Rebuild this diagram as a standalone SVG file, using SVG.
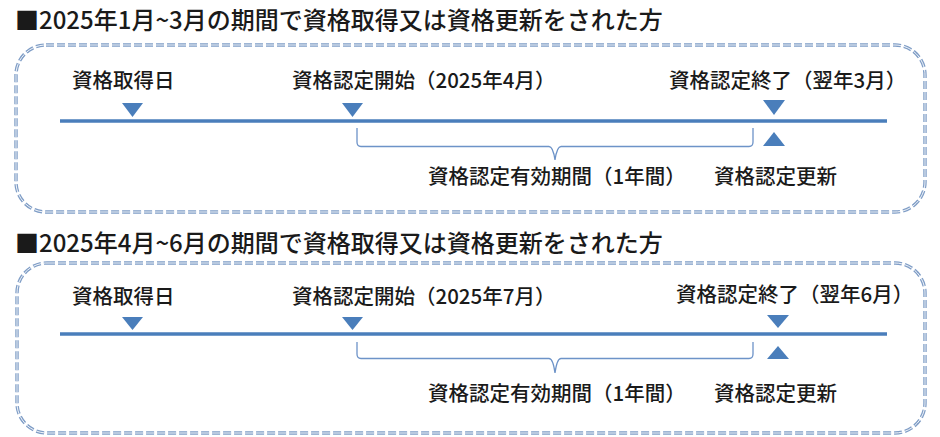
<svg xmlns="http://www.w3.org/2000/svg" width="940" height="437" viewBox="0 0 940 437">
<defs>
<style>
.title{font-family:"Noto Sans CJK JP","Noto Sans",sans-serif;font-size:24px;font-weight:500;fill:#1a1a1a}
.lbl{font-family:"Noto Sans CJK JP","Noto Sans",sans-serif;font-size:20.5px;font-weight:500;fill:#1a1a1a}
.frame{fill:none;stroke:#7F9DC6;stroke-width:3.4;stroke-dasharray:8 3}
.frame-in{fill:none;stroke:#ffffff;stroke-width:0.9;stroke-dasharray:8 3}
.axis{stroke:#4A7EBB;stroke-width:3.5}
.tri{fill:#4A7EBB}
.brace{fill:none;stroke:#6D93C8;stroke-width:1.3}
</style>
</defs>
<rect width="940" height="437" fill="#ffffff"/>

<g id="panel1">
  <text id="title1" class="title" x="15" y="29">■2025年1月~3月の期間で資格取得又は資格更新をされた方</text>
  <g id="frame1">
    <rect class="frame" x="16" y="45" width="909" height="167" rx="30" ry="30"/>
    <rect class="frame-in" x="16" y="45" width="909" height="167" rx="30" ry="30"/>
  </g>
  <g id="axis1"><line class="axis" x1="60" y1="121" x2="887" y2="121"/></g>
  <g id="node-acquire1">
    <text class="lbl" x="72" y="88">資格取得日</text>
    <polygon class="tri" points="122,103 143,103 132.5,117"/>
  </g>
  <g id="node-start1">
    <text class="lbl" x="292" y="88">資格認定開始（2025年4月）</text>
    <polygon class="tri" points="342,103 363,103 352.5,117"/>
  </g>
  <g id="node-end1">
    <text class="lbl" x="669" y="88">資格認定終了（翌年3月）</text>
    <polygon class="tri" points="763,100 785,100 774,115"/>
  </g>
  <g id="node-renew1">
    <polygon class="tri" points="763,146 785,146 774,132"/>
    <text class="lbl" x="714" y="184">資格認定更新</text>
  </g>
  <g id="node-valid1">
    <text class="lbl" x="428" y="184">資格認定有効期間（1年間）</text>
  </g>
</g>

<g id="panel2">
  <text id="title2" class="title" x="15" y="252">■2025年4月~6月の期間で資格取得又は資格更新をされた方</text>
  <g id="frame2">
    <rect class="frame" x="17" y="263" width="908" height="170" rx="30" ry="30"/>
    <rect class="frame-in" x="17" y="263" width="908" height="170" rx="30" ry="30"/>
  </g>
  <g id="axis2"><line class="axis" x1="60" y1="334" x2="887" y2="334"/></g>
  <g id="node-acquire2">
    <text class="lbl" x="72" y="304">資格取得日</text>
    <polygon class="tri" points="122,317 143,317 132.5,330"/>
  </g>
  <g id="node-start2">
    <text class="lbl" x="292" y="304">資格認定開始（2025年7月）</text>
    <polygon class="tri" points="342,317 363,317 352.5,330"/>
  </g>
  <g id="node-end2">
    <text class="lbl" x="676" y="302">資格認定終了（翌年6月）</text>
    <polygon class="tri" points="767,315 789,315 778,328"/>
  </g>
  <g id="node-renew2">
    <polygon class="tri" points="767,359 789,359 778,346"/>
    <text class="lbl" x="714" y="401">資格認定更新</text>
  </g>
  <g id="node-valid2">
    <text class="lbl" x="428" y="401">資格認定有効期間（1年間）</text>
  </g>
</g>

<g id="connectors">
  <path class="brace" d="M357,128 V142 Q357,146.5 361,146.5 H549 Q553,146.5 555,160 Q557,146.5 561,146.5 H749 Q753,146.5 753,142 V128"/>
  <path class="brace" d="M357,342 V354 Q357,358.5 361,358.5 H549 Q553,358.5 555,373 Q557,358.5 561,358.5 H749 Q753,358.5 753,354 V342"/>
</g>
</svg>
